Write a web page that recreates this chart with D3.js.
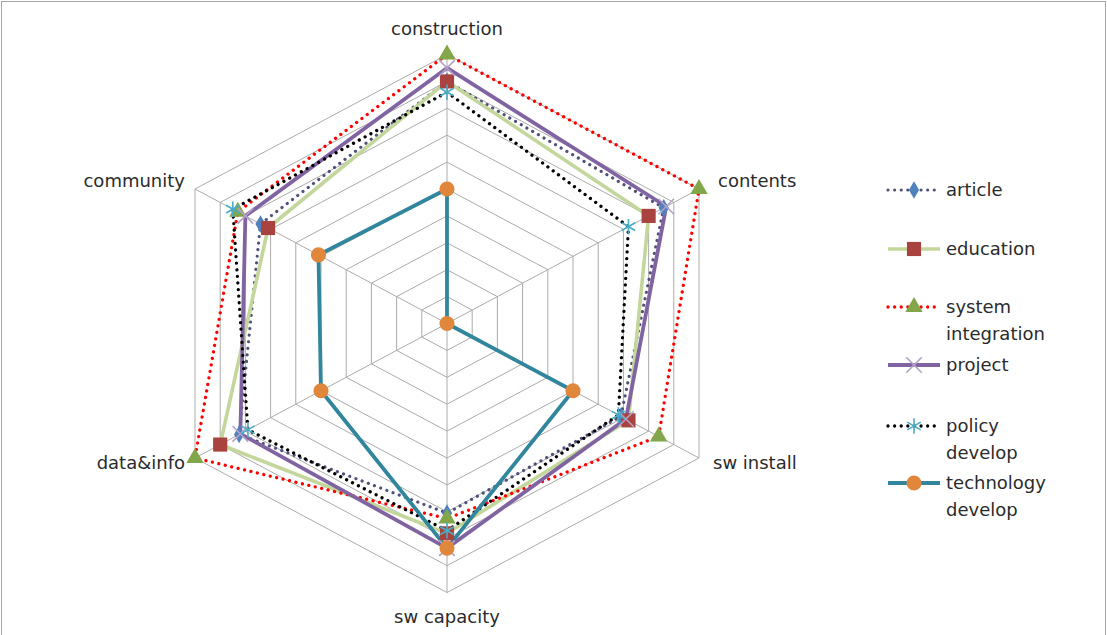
<!DOCTYPE html>
<html>
<head>
<meta charset="utf-8">
<script src="https://cdn.jsdelivr.net/npm/d3@7"></script>
<style>
  html, body { margin: 0; padding: 0; background: #fff; }
  svg { display: block; }
  text { font-family: "DejaVu Sans", sans-serif; fill: #2b2b2b; }
</style>
</head>
<body>
<svg id="chart" width="1107" height="635"></svg>
<script>
// ---- data ----
const categories = ["construction", "contents", "sw install", "sw capacity", "data&info", "community"];
const seriesNames = ["article", "education", "system integration", "project", "policy develop", "technology develop"];
const article            = [9.0, 8.6, 6.9, 7.05, 8.25, 7.4];
const education          = [9.0, 8.0, 7.2, 7.8, 9.0, 7.1];
const systemIntegration  = [10.0, 10.0, 8.4, 7.25, 10.0, 8.3];
const project            = [9.5, 8.7, 7.1, 8.35, 8.2, 8.0];
const policyDevelop      = [8.6, 7.2, 6.8, 7.7, 7.9, 8.5];
const technologyDevelop  = [5.0, 0.0, 5.0, 8.35, 5.0, 5.1];
const gridTicks = [1, 2, 3, 4, 5, 6, 7, 8, 9, 10];
const legendLines = [["article"], ["education"], ["system", "integration"], ["project"], ["policy", "develop"], ["technology", "develop"]];

// ---- styles ----
const styles = [
  { color: "#50507c", width: 3.2, dotted: true,  marker: "diamond", mfill: "#4f81bd", msize: 90 },
  { color: "#c3d69b", width: 3.6, dotted: false, marker: "square",  mfill: "#a9433f", msize: 200 },
  { color: "#ff0000", width: 3.3, dotted: true,  marker: "triangle",mfill: "#82a64a", msize: 130 },
  { color: "#8064a2", width: 3.8, dotted: false, marker: "times",   mstroke: "#b3a2c7", msize: 160 },
  { color: "#000000", width: 3.3, dotted: true,  marker: "asterisk",mstroke: "#4bacc6", msize: 170 },
  { color: "#31859c", width: 3.8, dotted: false, marker: "circle",  mfill: "#e0873c", msize: 180 }
];
const allSeries = [article, education, systemIntegration, project, policyDevelop, technologyDevelop];

const svg = d3.select("#chart");
const cx = 447, cy = 323.5, Rx = 291, Ry = 269;
const rx = d3.scaleLinear().domain([0, 10]).range([0, Rx]);
const ry = d3.scaleLinear().domain([0, 10]).range([0, Ry]);
const angle = d3.scalePoint().domain(d3.range(categories.length).concat([categories.length])).range([0, 2 * Math.PI]);
const px = (i, v) => cx + rx(v) * Math.sin(angle(i));
const py = (i, v) => cy - ry(v) * Math.cos(angle(i));

// border
svg.append("rect").attr("x", 1.5).attr("y", 1.5).attr("width", 1104).attr("height", 650)
  .attr("fill", "none").attr("stroke", "#a6a6a6").attr("stroke-width", 1);

// grid rings
const gridG = svg.append("g");
gridTicks.forEach(t => {
  const pts = categories.map((c, i) => [px(i, t), py(i, t)]);
  gridG.append("path").attr("d", d3.line().curve(d3.curveLinearClosed)(pts))
    .attr("fill", "none").attr("stroke", "#ababab").attr("stroke-width", 1);
});
categories.forEach((c, i) => {
  gridG.append("line").attr("x1", cx).attr("y1", cy).attr("x2", px(i, 10)).attr("y2", py(i, 10))
    .attr("stroke", "#ababab").attr("stroke-width", 1);
});

// category labels
const labelPos = [
  { anchor: "middle", dx: 0, dy: -20 },
  { anchor: "start", dx: 19, dy: -2 },
  { anchor: "start", dx: 14, dy: 11 },
  { anchor: "middle", dx: 0, dy: 30 },
  { anchor: "end", dx: -10, dy: 11 },
  { anchor: "end", dx: -10, dy: -2 }
];
categories.forEach((c, i) => {
  svg.append("text").attr("x", px(i, 10) + labelPos[i].dx).attr("y", py(i, 10) + labelPos[i].dy)
    .attr("text-anchor", labelPos[i].anchor).attr("font-size", 18).text(c);
});

function symbolFor(s) {
  const map = { diamond: d3.symbolDiamond, square: d3.symbolSquare, triangle: d3.symbolTriangle,
    times: d3.symbolTimes, asterisk: d3.symbolAsterisk, circle: d3.symbolCircle };
  return d3.symbol().type(map[s.marker]).size(s.msize)();
}
function styleLine(sel, s) {
  sel.attr("fill", "none").attr("stroke", s.color).attr("stroke-width", s.width).attr("stroke-linejoin", "round");
  if (s.dotted) sel.attr("stroke-dasharray", "0.01 6.6").attr("stroke-linecap", "round");
}
function styleMarker(sel, s) {
  if (s.mfill) sel.attr("fill", s.mfill).attr("stroke", "none");
  else sel.attr("fill", "none").attr("stroke", s.mstroke).attr("stroke-width", 1.6);
}

// series lines
const lineGen = d3.line().curve(d3.curveLinearClosed).x(d => px(d.i, d.v)).y(d => py(d.i, d.v));
allSeries.forEach((vals, k) => {
  const data = vals.map((v, i) => ({ i, v }));
  svg.append("path").attr("d", lineGen(data)).call(styleLine, styles[k]);
});
// markers
allSeries.forEach((vals, k) => {
  const s = styles[k];
  svg.append("g").selectAll("path").data(vals.map((v, i) => ({ i, v }))).join("path")
    .attr("transform", d => `translate(${px(d.i, d.v)},${py(d.i, d.v)})`)
    .attr("d", symbolFor(s)).call(styleMarker, s);
});

// legend
const legendY = [190, 249, 307, 365, 426, 483];
const lg = svg.append("g");
seriesNames.forEach((n, k) => {
  const s = styles[k], y = legendY[k];
  lg.append("line").attr("x1", 888).attr("x2", 940).attr("y1", y).attr("y2", y).call(styleLine, s);
  lg.append("path").attr("transform", `translate(914,${y})`).attr("d", symbolFor(s)).call(styleMarker, s);
  legendLines[k].forEach((t, j) => {
    lg.append("text").attr("x", 946).attr("y", y + 6 + j * 26.5).attr("font-size", 18).text(t);
  });
});
</script>
</body>
</html>
